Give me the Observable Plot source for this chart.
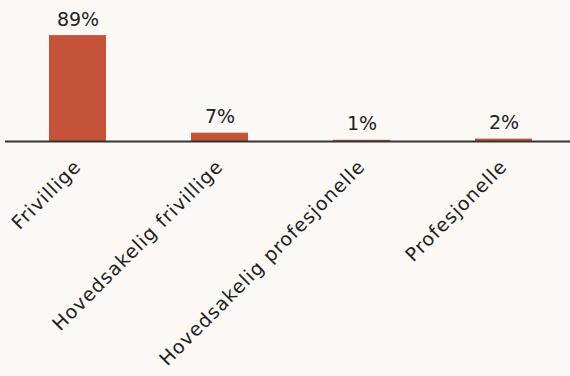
<!DOCTYPE html>
<html><head><meta charset="utf-8">
<script src="https://cdn.jsdelivr.net/npm/d3@7"></script>
<script src="https://cdn.jsdelivr.net/npm/@observablehq/plot@0.6"></script>
<style>
html,body{margin:0;padding:0;background:#fbf8f5;}
#chart{width:570px;height:376px;}
g[aria-label="x-axis tick label"] text{letter-spacing:1px;}
</style></head><body><div id="chart"></div>
<script>
const categories = ["Frivillige", "Hovedsakelig frivillige", "Hovedsakelig profesjonelle", "Profesjonelle"];
const values = [89, 7, 1, 2];
const labels = ["89%", "7%", "1%", "2%"];
const data = categories.map((c, i) => ({cat: c, v: values[i], label: labels[i]}));

const chart = Plot.plot({
  width: 570, height: 376,
  marginTop: 22, marginBottom: 235, marginLeft: 5, marginRight: 0,
  style: {background: "#fbf8f5", fontFamily: "DejaVu Sans", color: "#222"},
  x: {domain: categories, range: [6, 575], paddingInner: 0.6, paddingOuter: 0.3, label: null},
  y: {domain: [0, 100], axis: null},
  marks: [
    Plot.barY(data, {x: "cat", y: "v", fill: "#c4533a"}),
    Plot.ruleY([0], {stroke: "#333", strokeWidth: 2}),
    Plot.text(data, {x: "cat", y: "v", text: "label", dy: -16, fontSize: 19, fill: "#222"}),
    Plot.axisX({tickSize: 0, tickRotate: -45, tickPadding: 22, fontSize: 19, fill: "#222", label: null})
  ]
});
document.getElementById("chart").appendChild(chart);
</script></body></html>
